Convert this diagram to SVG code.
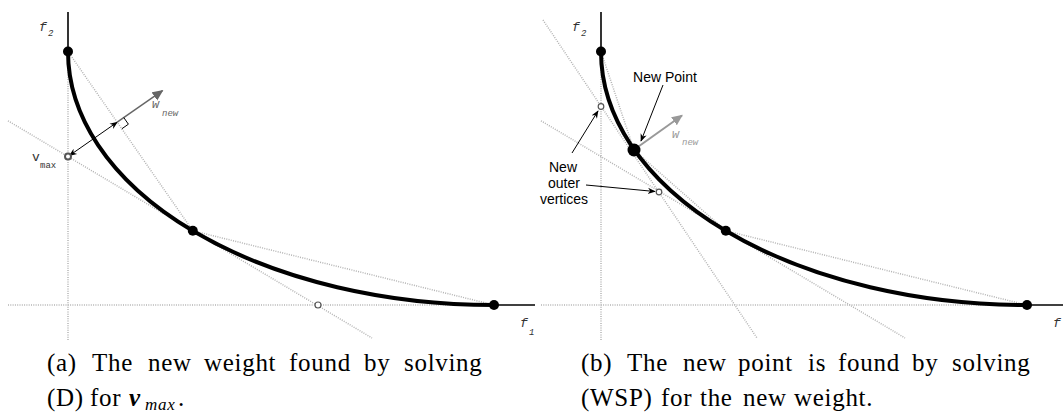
<svg xmlns="http://www.w3.org/2000/svg" width="1063" height="414" viewBox="0 0 1063 414">
<style>
.dot{fill:none;stroke:#b4b4b4;stroke-width:1.5;stroke-dasharray:1 1.3}
.axis{fill:none;stroke:#000;stroke-width:1.6}
.curve{fill:none;stroke:#000;stroke-width:4}
.pt{fill:#000}
.open{fill:#fff;stroke:#555;stroke-width:1.2}
.lab{font-family:"Liberation Mono",monospace;font-style:italic;fill:#333}
.up{font-style:normal}
.sub{font-size:9px}
.sans{font-family:"Liberation Sans",Arial,sans-serif;font-size:14px;fill:#000}
.cap{font-family:"Liberation Serif","Times New Roman",serif;font-size:25px;fill:#000;letter-spacing:0.7px}
</style>
<defs>
<marker id="ah" viewBox="0 0 10 10" refX="9" refY="5" markerWidth="8" markerHeight="8" markerUnits="userSpaceOnUse" orient="auto-start-reverse">
<path d="M0,1 L10,5 L0,9 L3,5 Z" fill="#000"/>
</marker>
<marker id="ahg" viewBox="0 0 10 10" refX="9" refY="5" markerWidth="11" markerHeight="11" markerUnits="userSpaceOnUse" orient="auto">
<path d="M0,0.5 L10,5 L0,9.5 Z" fill="#666"/>
</marker>
<marker id="ahl" viewBox="0 0 10 10" refX="9" refY="5" markerWidth="11" markerHeight="11" markerUnits="userSpaceOnUse" orient="auto">
<path d="M0,0.5 L10,5 L0,9.5 Z" fill="#999"/>
</marker>
</defs>

<g id="connectors">
<!-- left panel -->
<line class="dot" x1="68" y1="51.5" x2="68" y2="340"/>
<line class="dot" x1="8" y1="305" x2="494" y2="305"/>
<line class="dot" x1="68" y1="51.5" x2="192.8" y2="230.8"/>
<line class="dot" x1="192.8" y1="230.8" x2="494" y2="305"/>
<line class="dot" x1="8" y1="120.8" x2="372" y2="338"/>
<line class="axis" x1="68" y1="12" x2="68" y2="51.5"/>
<line class="axis" x1="494" y1="305" x2="535" y2="305"/>
<path class="curve" d="M68,51.5 A426,253.5 0 0 0 494,305"/>
<line x1="69.5" y1="155.5" x2="117.2" y2="122.2" stroke="#000" stroke-width="1" marker-start="url(#ah)" marker-end="url(#ah)"/>
<line x1="117.2" y1="122.2" x2="162.5" y2="90.7" stroke="#666" stroke-width="1.5" marker-end="url(#ahg)"/>
<polyline points="123.8,117.6 128.4,124.2 121.8,128.8" fill="none" stroke="#000" stroke-width="1"/>
<!-- right panel -->
<line class="dot" x1="601" y1="51.5" x2="601" y2="340"/>
<line class="dot" x1="541" y1="305" x2="1027" y2="305"/>
<line class="dot" x1="601" y1="51.5" x2="634" y2="150"/>
<line class="dot" x1="634" y1="150" x2="725.8" y2="230.8"/>
<line class="dot" x1="725.8" y1="230.8" x2="1027" y2="305"/>
<line class="dot" x1="541" y1="120.8" x2="905" y2="338"/>
<line class="dot" x1="543" y1="20" x2="757" y2="338"/>
<line class="axis" x1="601" y1="12" x2="601" y2="51.5"/>
<line class="axis" x1="1027" y1="305" x2="1063" y2="305"/>
<path class="curve" d="M601,51.5 A426,253.5 0 0 0 1027,305"/>
<line x1="635" y1="149" x2="682" y2="115.5" stroke="#999" stroke-width="2" marker-end="url(#ahl)"/>
<line x1="663" y1="85" x2="641" y2="141" stroke="#000" stroke-width="1" marker-end="url(#ah)"/>
<line x1="572" y1="153" x2="598" y2="111" stroke="#000" stroke-width="1" marker-end="url(#ah)"/>
<line x1="586" y1="185" x2="655" y2="191.5" stroke="#000" stroke-width="1" marker-end="url(#ah)"/>
</g>

<g id="left-top-point"><circle class="pt" cx="68" cy="51.5" r="5"/></g>
<g id="left-mid-point"><circle class="pt" cx="192.8" cy="230.8" r="5"/></g>
<g id="left-right-point"><circle class="pt" cx="494" cy="305" r="5"/></g>
<g id="left-vmax"><circle cx="68" cy="156.5" r="3" fill="#fff" stroke="#555" stroke-width="2"/>
<text class="lab up" x="32" y="161" font-size="13">v</text><text class="lab up sub" x="40" y="168">max</text></g>
<g id="left-outer-point"><circle class="open" cx="318" cy="305" r="3"/></g>
<g id="left-wnew"><text class="lab" x="152" y="108" font-size="12" style="fill:#666">w</text><text class="lab sub" x="162" y="116" style="fill:#666">new</text></g>
<g id="left-f2"><text class="lab" x="39" y="31" font-size="13">f</text><text class="lab sub" x="48" y="36">2</text></g>
<g id="left-f1"><text class="lab" x="520" y="327" font-size="13">f</text><text class="lab sub" x="529" y="335">1</text></g>

<g id="right-top-point"><circle class="pt" cx="601" cy="51.5" r="5"/></g>
<g id="right-new-point"><circle class="pt" cx="634" cy="150" r="6.5"/></g>
<g id="right-mid-point"><circle class="pt" cx="725.8" cy="230.8" r="5"/></g>
<g id="right-right-point"><circle class="pt" cx="1027" cy="305" r="5"/></g>
<g id="right-outer-1"><circle class="open" cx="601" cy="106.5" r="2.8"/></g>
<g id="right-outer-2"><circle class="open" cx="659" cy="192" r="2.8"/></g>
<g id="right-wnew"><text class="lab" x="672" y="138" font-size="12" style="fill:#999">w</text><text class="lab sub" x="682" y="145" style="fill:#999">new</text></g>
<g id="right-f2"><text class="lab" x="572" y="31" font-size="13">f</text><text class="lab sub" x="581" y="36">2</text></g>
<g id="right-f1"><text class="lab" x="1053" y="327" font-size="13">f</text></g>
<g id="new-point-label"><text class="sans" x="665" y="82" text-anchor="middle">New Point</text></g>
<g id="outer-label"><text class="sans" text-anchor="middle"><tspan x="563" y="172">New</tspan><tspan x="564" y="188">outer</tspan><tspan x="564" y="204">vertices</tspan></text></g>

<g id="caption-a">
<text class="cap" y="371"><tspan x="47">(a)</tspan><tspan x="92">The</tspan><tspan x="148">new</tspan><tspan x="204">weight</tspan><tspan x="289">found</tspan><tspan x="364">by</tspan><tspan x="404">solving</tspan></text>
<text class="cap" y="406"><tspan x="47">(D)</tspan><tspan x="90">for</tspan><tspan x="129" font-weight="bold" font-style="italic">ν</tspan><tspan x="145" dy="4" font-style="italic" font-size="17">max</tspan><tspan x="178" dy="-4">.</tspan></text>
</g>
<g id="caption-b">
<text class="cap" y="371"><tspan x="581">(b)</tspan><tspan x="627">The</tspan><tspan x="683">new</tspan><tspan x="738">point</tspan><tspan x="808">is</tspan><tspan x="838">found</tspan><tspan x="912">by</tspan><tspan x="952">solving</tspan></text>
<text class="cap" y="406"><tspan x="581">(WSP)</tspan><tspan x="661">for</tspan><tspan x="700">the</tspan><tspan x="743">new</tspan><tspan x="794">weight.</tspan></text>
</g>
</svg>
